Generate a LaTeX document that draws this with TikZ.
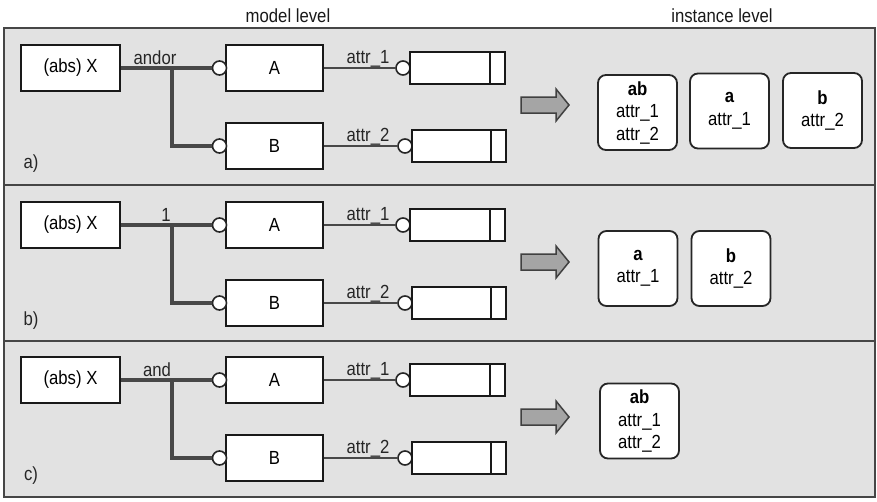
\documentclass[tikz,border=0pt]{standalone}
\usepackage{fontspec}
\setmainfont{Liberation Sans}[FakeStretch=0.88]
\definecolor{panelbg}{RGB}{226,226,226}
\definecolor{edgegray}{RGB}{70,70,70}
\definecolor{linegray}{RGB}{72,72,72}
\definecolor{arrowgray}{RGB}{165,165,165}
\newcommand\myfs{\fontsize{19}{22.5}\selectfont}
\newcommand\modelpanel[5]{% #1 id, #2 yA, #3 relation label, #4 label x, #5 panel letter
  \pgfmathsetmacro\yA{#2}
  \pgfmathsetmacro\yB{#2+78}
  \node[xbox] (X#1) at (70.5,\yA) {(abs) X};
  \node[mbox] (A#1) at (274.5,\yA) {A};
  \node[mbox] (B#1) at (274.5,\yB) {B};
  \node[port] (pA#1) at (219.5,\yA) {};
  \node[port] (pB#1) at (219.5,\yB) {};
  \coordinate (j#1) at (172,\yA);
  \draw[rel] (X#1.east) -- (j#1) -- (pA#1.west);
  \draw[rel] (j#1) |- (pB#1.west);
  \node[lbl,anchor=base] (r#1) at (#4,\yA-4) {#3};
  % attributes
  \node[port] (qA#1) at (403,\yA) {};
  \node[attrbox,minimum width=95pt] (tA#1) at (457.5,\yA) {};
  \draw[attrline] (A#1.east) -- (qA#1.west);
  \node[lbl,anchor=base] (la#1) at (368,\yA-5) {attr\_1};
  \draw[divider] ([xshift=-16pt]tA#1.north east) -- ([xshift=-16pt]tA#1.south east);
  \node[port] (qB#1) at (405,\yB) {};
  \node[attrbox,minimum width=94pt] (tB#1) at (459,\yB) {};
  \draw[attrline] (B#1.east) -- (qB#1.west);
  \node[lbl,anchor=base] (lb#1) at (368,\yB-5) {attr\_2};
  \draw[divider] ([xshift=-16pt]tB#1.north east) -- ([xshift=-16pt]tB#1.south east);
  % panel letter
  \node[lbl] (pl#1) at (31,\yB+18) {#5)};
  % fat arrow
  \filldraw[fatarrow] (521,\yA+29) -- (556,\yA+29) -- (556,\yA+21) -- (569,\yA+37)
     -- (556,\yA+53) -- (556,\yA+45) -- (521,\yA+45) -- cycle;
}
\begin{document}
\begin{tikzpicture}[x=1pt,y=-1pt,
  panel/.style={draw=edgegray,line width=1.8pt,fill=panelbg},
  xbox/.style={draw=black!90,line width=1.8pt,fill=white,minimum width=99pt,minimum height=46pt,inner sep=0pt,font=\myfs},
  mbox/.style={draw=black!90,line width=1.8pt,fill=white,minimum width=97pt,minimum height=46pt,inner sep=0pt,font=\myfs},
  port/.style={circle,draw=black!85,line width=1.6pt,fill=white,minimum size=14pt,inner sep=0pt},
  rel/.style={draw=linegray,line width=3.2pt},
  attrline/.style={draw=linegray,line width=1.5pt},
  attrbox/.style={draw=black!90,line width=1.8pt,fill=white,minimum height=32pt,inner sep=0pt},
  divider/.style={draw=black!90,line width=1.8pt},
  lbl/.style={font=\myfs,text=black!85,inner sep=1pt},
  title/.style={font=\myfs,text=black!90},
  ibox/.style={draw=black!85,line width=1.8pt,fill=white,rounded corners=8pt,minimum width=79pt,minimum height=75pt,align=center,font=\myfs,inner sep=0pt},
  fatarrow/.style={draw=black!75,line width=1.5pt,fill=arrowgray,line join=miter}
]
\useasboundingbox (0,0) rectangle (877,501);
\fill[white] (0,0) rectangle (877,501);
\node[title] (tmodel) at (288,16) {model level};
\node[title] (tinst) at (722,16) {instance level};
\draw[panel] (4,28) rectangle (875,185);
\draw[panel] (4,185) rectangle (875,341);
\draw[panel] (4,341) rectangle (875,497);

\modelpanel{a}{68}{andor}{155}{a}
\modelpanel{b}{225}{1}{166}{b}
\modelpanel{c}{380}{and}{157}{c}

% instance level
\node[ibox] (ab-a) at (637.5,112.5) {\textbf{ab}\\attr\_1\\attr\_2};
\node[ibox] (a-a) at (729.5,111) {\textbf{a}\\attr\_1};
\node[ibox] (b-a) at (822.5,110.5) {\textbf{b}\\attr\_2};
\node[ibox] (a-b) at (638,268.5) {\textbf{a}\\attr\_1};
\node[ibox] (b-b) at (731,268.5) {\textbf{b}\\attr\_2};
\node[ibox] (ab-c) at (639.5,421) {\textbf{ab}\\attr\_1\\attr\_2};
\end{tikzpicture}
\end{document}
